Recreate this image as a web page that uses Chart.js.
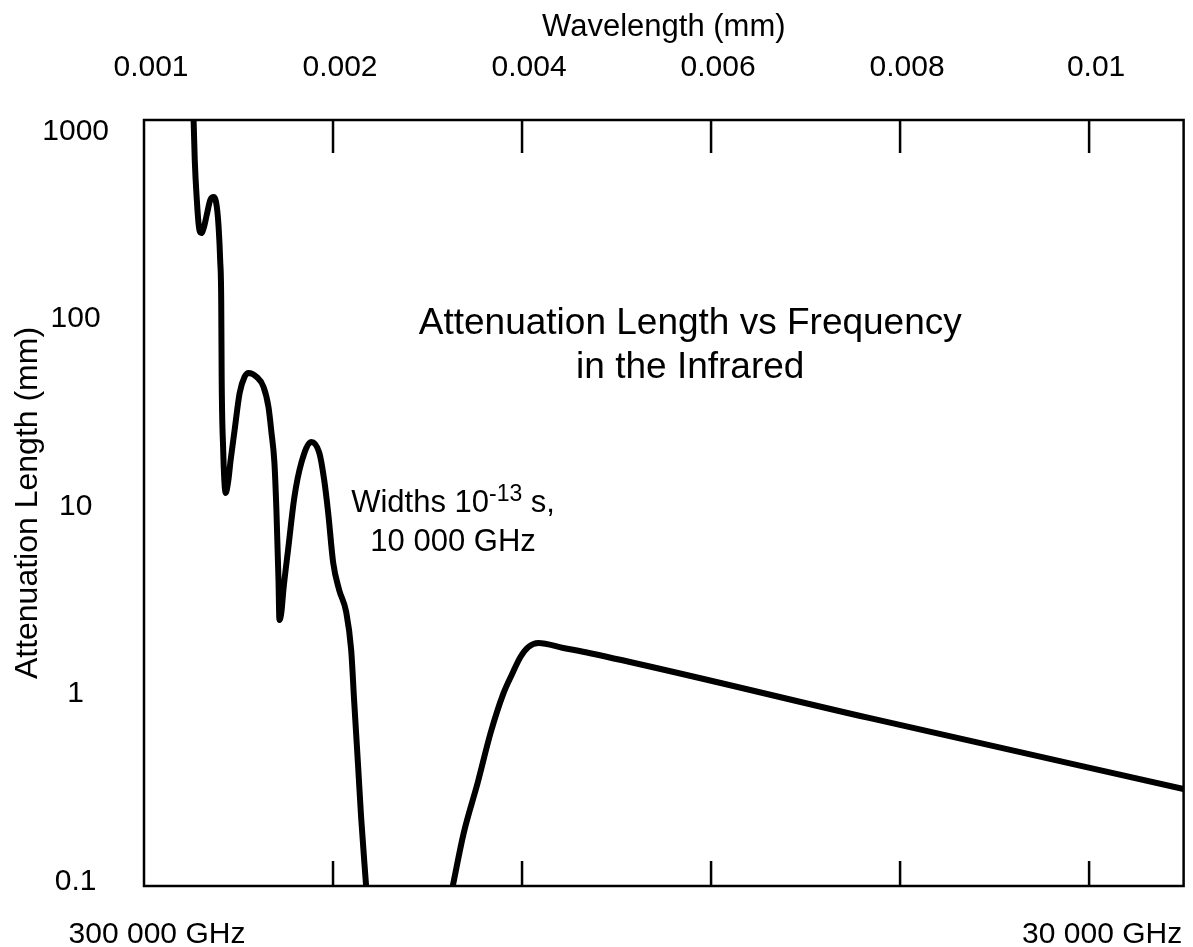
<!DOCTYPE html>
<html>
<head>
<meta charset="utf-8">
<script src="https://cdn.jsdelivr.net/npm/chart.js@4.4.0/dist/chart.umd.min.js"></script>
<style>
  html, body { margin: 0; padding: 0; background: #fff; }
</style>
</head>
<body>
<canvas id="attenChart" width="1193" height="947"></canvas>
<script>
// Absorption bands: wavelength (mm) against attenuation length (mm)
const bandWavelength = [
  0.000522, 0.000537, 0.000559, 0.000580, 0.000606, 0.000632, 0.000664, 0.000701,
  0.000738, 0.000769, 0.000790, 0.000806, 0.000817, 0.000822, 0.000838, 0.000850,
  0.000864, 0.000890, 0.000917, 0.000959, 0.001012, 0.001064, 0.001106, 0.001191,
  0.001265, 0.001317, 0.001349, 0.001380, 0.001402, 0.001423, 0.001433, 0.001454,
  0.001475, 0.001528, 0.001591, 0.001665, 0.001770, 0.001855, 0.001907, 0.001949,
  0.002002, 0.002065, 0.002139, 0.002192, 0.002223, 0.002266, 0.002297, 0.002350
];
const bandAttenuation = [
  1302, 705, 431, 313, 287, 306, 359, 431,
  447, 401, 306, 206, 126, 47.3, 20.0, 13.8,
  11.8, 13.5, 17.7, 25.6, 40.3, 49.1, 51.5, 49.1,
  43.4, 33.9, 24.7, 17.1, 9.23, 4.06, 2.48, 2.74,
  3.59, 6.08, 11.2, 17.1, 22.1, 19.3, 13.8, 9.23,
  5.00, 3.59, 2.74, 1.72, 0.929, 0.408, 0.221, 0.0946
];

// Long-wavelength side
const tailWavelength = [
  0.003267, 0.003383, 0.003530, 0.003667, 0.003804, 0.003899, 0.003983,
  0.004067, 0.004173, 0.004436, 0.004721, 0.007671, 0.011
];
const tailAttenuation = [
  0.0946, 0.1815, 0.335, 0.619, 1.01, 1.29, 1.575,
  1.78, 1.87, 1.76, 1.65, 0.745, 0.311
];

const wavelengthTicks = [0, 0.002, 0.004, 0.006, 0.008, 0.01];
const wavelengthLabels = ['0.001', '0.002', '0.004', '0.006', '0.008', '0.01'];
const frequencyLabels = ['300 000 GHz', '', '', '', '', '30 000 GHz'];
const lengthTicks = [0.1, 1, 10, 100, 1000];

const FONT = '"Liberation Sans", Arial, Helvetica, sans-serif';
Chart.defaults.font.family = FONT;
Chart.defaults.color = '#000';

function toPoints(xs, ys) {
  return xs.map((x, i) => ({ x: x, y: ys[i] }));
}

// frame, inward tick marks and the text inside the plot
const plotDecor = {
  id: 'plotDecor',
  afterDraw(chart) {
    const ctx = chart.ctx;
    const area = chart.chartArea;
    const xs = chart.scales.x;
    const ys = chart.scales.y;
    ctx.save();
    ctx.strokeStyle = '#000';
    ctx.lineWidth = 2.5;
    ctx.strokeRect(area.left, area.top, area.right - area.left, area.bottom - area.top);

    wavelengthTicks.forEach((v, i) => {
      if (i === 0) return;
      const px = xs.getPixelForValue(v);
      ctx.beginPath();
      ctx.moveTo(px, area.top);
      ctx.lineTo(px, area.top + 33);
      ctx.moveTo(px, area.bottom);
      ctx.lineTo(px, area.bottom - 25);
      ctx.stroke();
    });

    ctx.fillStyle = '#000';
    ctx.textBaseline = 'middle';
    ctx.textAlign = 'center';
    ctx.font = '37px ' + FONT;
    const tx = xs.getPixelForValue(0.00578);
    ctx.fillText('Attenuation Length vs Frequency', tx, ys.getPixelForValue(94));
    ctx.fillText('in the Infrared', tx, ys.getPixelForValue(55));

    // note on the line widths, with a superscript exponent
    const nx = xs.getPixelForValue(0.00327);
    const parts = [
      { text: 'Widths 10', size: 31, rise: 0 },
      { text: '-13', size: 23, rise: -9 },
      { text: ' s,', size: 31, rise: 0 }
    ];
    let total = 0;
    parts.forEach(p => {
      ctx.font = p.size + 'px ' + FONT;
      p.w = ctx.measureText(p.text).width;
      total += p.w;
    });
    const ny = ys.getPixelForValue(10.4);
    let cx = nx - total / 2;
    ctx.textAlign = 'left';
    parts.forEach(p => {
      ctx.font = p.size + 'px ' + FONT;
      ctx.fillText(p.text, cx, ny + p.rise);
      cx += p.w;
    });
    ctx.textAlign = 'center';
    ctx.font = '31px ' + FONT;
    ctx.fillText('10 000 GHz', nx, ys.getPixelForValue(6.4));
    ctx.restore();
  }
};

const lineStyle = {
  borderColor: '#000',
  borderWidth: 6,
  pointRadius: 0,
  fill: false,
  cubicInterpolationMode: 'monotone',
  borderJoinStyle: 'round',
  borderCapStyle: 'round',
  clip: 0
};

new Chart(document.getElementById('attenChart'), {
  type: 'line',
  data: {
    datasets: [
      Object.assign({ data: toPoints(bandWavelength, bandAttenuation) }, lineStyle),
      Object.assign({ data: toPoints(tailWavelength, tailAttenuation) }, lineStyle)
    ]
  },
  options: {
    responsive: false,
    animation: false,
    devicePixelRatio: 1,
    layout: { padding: { right: 7 } },
    plugins: {
      legend: { display: false },
      tooltip: { enabled: false }
    },
    scales: {
      x: {
        type: 'linear',
        position: 'bottom',
        min: 0,
        max: 0.011,
        afterBuildTicks: s => { s.ticks = wavelengthTicks.map(v => ({ value: v })); },
        afterFit: s => { s.height = 61; },
        grid: { display: false },
        border: { display: false },
        ticks: {
          autoSkip: false,
          maxRotation: 0,
          padding: 23,
          labelOffset: 13,
          font: { size: 30 },
          callback: (v, i) => frequencyLabels[i]
        }
      },
      xTop: {
        type: 'linear',
        position: 'top',
        min: 0,
        max: 0.011,
        afterBuildTicks: s => { s.ticks = wavelengthTicks.map(v => ({ value: v })); },
        afterFit: s => { s.height = 120; },
        grid: { display: false },
        border: { display: false },
        title: {
          display: true,
          text: 'Wavelength (mm)',
          font: { size: 31 },
          padding: { top: 9, bottom: 0 }
        },
        ticks: {
          autoSkip: false,
          maxRotation: 0,
          padding: 26,
          labelOffset: 7,
          font: { size: 30 },
          callback: (v, i) => wavelengthLabels[i]
        }
      },
      y: {
        type: 'logarithmic',
        position: 'left',
        min: 0.0946,
        max: 1151,
        afterBuildTicks: s => { s.ticks = lengthTicks.map(v => ({ value: v })); },
        afterFit: s => { s.width = 144; },
        grid: { display: false },
        border: { display: false },
        title: {
          display: true,
          text: 'Attenuation Length (mm)',
          font: { size: 32 },
          padding: { top: 9, bottom: 0 }
        },
        ticks: {
          crossAlign: 'center',
          padding: 27,
          font: { size: 30 },
          callback: v => String(v)
        }
      }
    }
  },
  plugins: [plotDecor]
});
</script>
</body>
</html>
